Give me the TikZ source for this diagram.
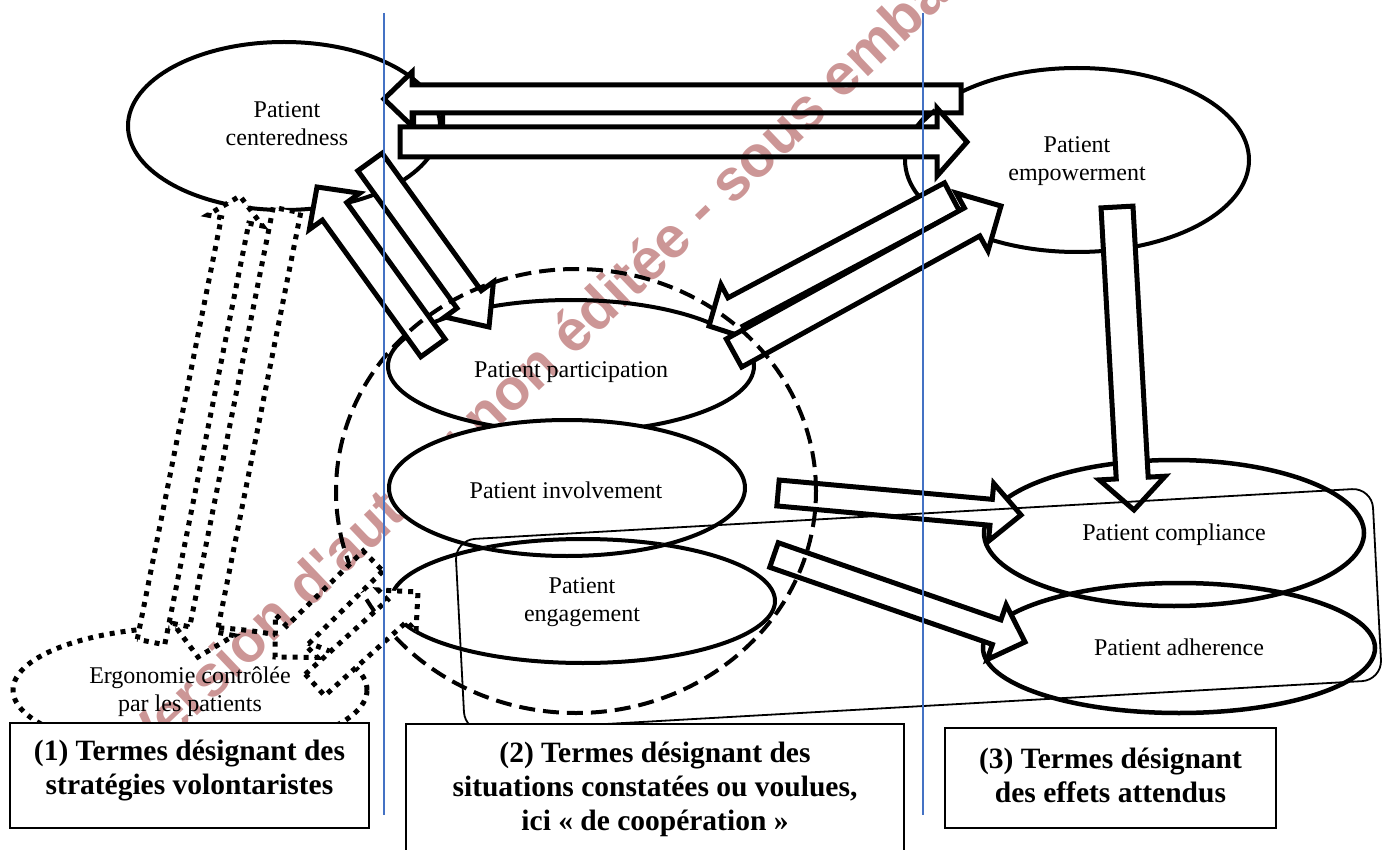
\documentclass[tikz,border=0pt]{standalone}
\usepackage{fontspec}
\setmainfont{Liberation Serif}
\newfontfamily\wmfont{Liberation Sans}
\usetikzlibrary{calc,shapes.geometric}
\definecolor{wm}{RGB}{204,150,150}
\definecolor{bluel}{RGB}{68,114,196}
\newcommand{\blockarr}[6]{%
  \coordinate (bB) at ($(#3)!#6!(#2)$);
  \draw[#1] ($(#2)!#4!90:(#3)$) -- ($(bB)!#4!-90:(#2)$) -- ($(bB)!#5!-90:(#2)$) -- (#3)
    -- ($(bB)!#5!90:(#2)$) -- ($(bB)!#4!90:(#2)$) -- ($(#2)!#4!-90:(#3)$) -- cycle;
}
\tikzset{
  ell/.style={draw, ellipse, line width=4pt, fill=white, inner sep=0pt},
  ellnf/.style={draw, ellipse, line width=4.5pt, inner sep=0pt},
  barr/.style={draw, line width=5pt, fill=white, line join=miter},
  darr/.style={draw, line width=5pt, fill=white, dash pattern=on 5pt off 6pt, line join=miter},
  lbl/.style={font=\fontsize{24}{28}\selectfont, align=center, inner sep=0pt},
  tbox/.style={draw, line width=2.5pt, fill=white, inner sep=0pt},
  btxt/.style={font=\bfseries\fontsize{29.5}{34}\selectfont, align=center, inner sep=0pt},
  bline/.style={draw=bluel, line width=2pt},
  rrect/.style={draw, line width=1.8pt, rounded corners=20pt},
}
\begin{document}
\begin{tikzpicture}[x=1pt,y=-1pt]
\useasboundingbox (0,0) rectangle (1384,850);
\fill[white] (0,0) rectangle (1384,850);
% ellipses
\node[ell, minimum width=312pt, minimum height=168pt] (cent) at (284,126) {};
\node[ell, minimum width=344pt, minimum height=184pt] (emp) at (1077,160) {};
\node[ellnf, line width=4pt, minimum width=366pt, minimum height=132pt] (part) at (571,366) {};
\node[ellnf, line width=4pt, minimum width=384pt, minimum height=124pt] (eng) at (583,601) {};
\node[ellnf, minimum width=380pt, minimum height=146pt] (comp) at (1174,533) {};
\node[ellnf, minimum width=392pt, minimum height=130pt] (adh) at (1179,648) {};
\node[draw, ellipse, fill=white, line width=5pt, dash pattern=on 5pt off 6pt, minimum width=354pt, minimum height=126pt] (ergo) at (190,690) {};
% labels
\node[lbl] (centT) at (287,124) {Patient\\centeredness};
\node[lbl] (empT) at (1077,161) {Patient\\empowerment};
\node[lbl] (partT) at (571,372) {Patient participation};
\node[lbl] (engT) at (582,602) {Patient\\engagement};
\node[lbl] (compT) at (1174,535) {Patient compliance};
\node[lbl] (adhT) at (1179,647) {Patient adherence};
\node[lbl] (ergoT) at (190,692) {Ergonomie contrôlée\\par les patients};
% arrow end points
\coordinate (Ct) at (370,162); \coordinate (Ch) at (489,327);
\coordinate (Dt) at (433,348); \coordinate (Dh) at (317,187);
\coordinate (Ft) at (952,197); \coordinate (Fh) at (709,326);
\coordinate (Et) at (734,353); \coordinate (Eh) at (1001,206);
\coordinate (At) at (961,99);  \coordinate (Ah) at (384,99);
\coordinate (Bt) at (400,142); \coordinate (Bh) at (967,142);
\coordinate (Gt) at (1117,207); \coordinate (Gh) at (1134,510);
\coordinate (Ht) at (778,493); \coordinate (Hh) at (1021,515);
\coordinate (It) at (774,555); \coordinate (Ih) at (1025,642);
\coordinate (Jt) at (151,642); \coordinate (Jh) at (240,196);
\coordinate (Kt) at (287,210); \coordinate (Kh) at (198,657);
\coordinate (Mt) at (373,561); \coordinate (Mh) at (275,657);
\coordinate (Nt) at (315,685); \coordinate (Nh) at (418,592);
% block arrows
\blockarr{barr}{Ct}{Ch}{15pt}{30pt}{34pt}
\blockarr{barr}{Dt}{Dh}{15pt}{31pt}{30pt}
\blockarr{barr}{Ft}{Fh}{16pt}{31pt}{30pt}
\blockarr{barr}{Et}{Eh}{16pt}{33pt}{33pt}
\blockarr{barr}{At}{Ah}{14pt}{27pt}{28pt}
\draw[line width=4pt] (414,113) -- (414,127) (443,113) -- (443,127) (917,127) -- (935,110);
\blockarr{barr}{Bt}{Bh}{15pt}{34pt}{30pt}
\blockarr{barr}{Gt}{Gh}{16pt}{33pt}{32pt}
\blockarr{barr}{Ht}{Hh}{13pt}{29pt}{30pt}
\blockarr{barr}{It}{Ih}{13pt}{29pt}{30pt}
% dashed circle
\node[draw, ellipse, line width=4pt, dash pattern=on 16pt off 8pt, minimum width=480pt, minimum height=444pt, inner sep=0pt] (circ) at (576,491) {};
% dotted arrows
\blockarr{darr}{Jt}{Jh}{14pt}{28pt}{25pt}
\blockarr{darr}{Kt}{Kh}{14pt}{31pt}{28pt}
\blockarr{darr}{Mt}{Mh}{14pt}{30pt}{30pt}
\blockarr{darr}{Nt}{Nh}{14.5pt}{28pt}{28pt}
% rounded rectangle
\draw[rrect] (455,540) -- (1372,488) -- (1382,680) -- (465,732) -- cycle;
% watermark
\begin{scope}[blend mode=multiply]
\node[text=wm, rotate=43.6, font=\wmfont\bfseries\fontsize{58}{58}\selectfont, inner sep=0pt] (wmark) at (572,338) {Version d'auteur non éditée - sous embargo};
\end{scope}
% involvement ellipse lies over the watermark
\node[ell, minimum width=356pt, minimum height=136pt] (inv) at (567,488) {};
\begin{scope}
\clip (567,488) ellipse [x radius=176pt, y radius=66pt];
\node[ellnf, line width=4pt, minimum width=384pt, minimum height=124pt] (engB) at (583,601) {};
\draw[rrect] (455,540) -- (1372,488) -- (1382,680) -- (465,732) -- cycle;
\end{scope}
\node[lbl] (invT) at (566,490) {Patient involvement};
% boxes
\node[tbox, minimum width=359pt, minimum height=105pt] (box1) at (189.5,775.5) {};
\node[tbox, minimum width=498pt, minimum height=146pt] (box2) at (655,797) {};
\node[tbox, minimum width=331pt, minimum height=100pt] (box3) at (1110.5,778) {};
\node[btxt] (box1T) at (189.5,771) {(1) Termes désignant des\\stratégies volontaristes};
\node[btxt] (box2T) at (655,789) {(2) Termes désignant des\\situations constatées ou voulues,\\ici « de coopération »};
\node[btxt] (box3T) at (1110.5,775) {(3) Termes désignant\\des effets attendus};
% blue lines
\coordinate (b1t) at (384,13); \coordinate (b1b) at (384,815);
\coordinate (b2t) at (923,13); \coordinate (b2b) at (923,815);
\draw[bline] (b1t) -- (b1b);
\draw[bline] (b2t) -- (b2b);
\end{tikzpicture}
\end{document}
